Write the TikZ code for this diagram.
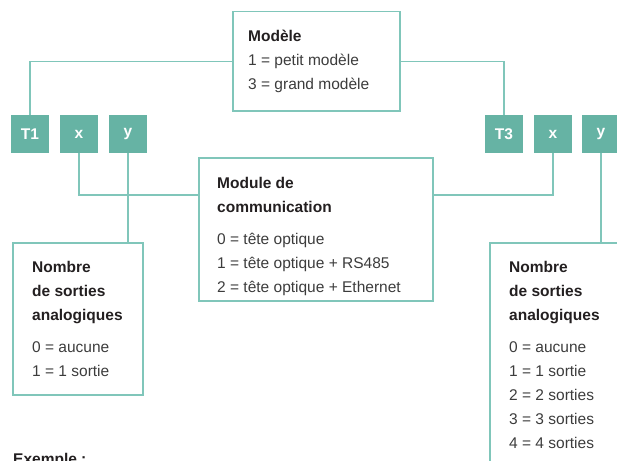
\documentclass[tikz,border=0pt]{standalone}
\usepackage{fontspec}
\setmainfont{Liberation Sans}
\definecolor{tealfill}{HTML}{66B3A4}
\definecolor{tealline}{HTML}{80C6BA}
\definecolor{ink}{HTML}{231F20}
\definecolor{inklight}{HTML}{3C3C3C}
\tikzset{
  code/.style={fill=tealfill, minimum size=38pt, inner sep=0pt, text=white, font=\fontsize{15.5}{18}\selectfont\bfseries},
  box/.style={draw=tealline, line width=1.5pt, inner sep=0pt, anchor=north west},
  wire/.style={tealline, line width=1.5pt},
  legend/.style={anchor=north west, align=left, inner sep=0pt, text=inklight, font=\fontsize{15.5}{24}\selectfont},
}
\newcommand{\ttl}[1]{\textcolor{ink}{\textbf{#1}}}
\begin{document}
\begin{tikzpicture}[x=1pt,y=-1pt]
  \useasboundingbox (0,0) rectangle (617,460);
  \clip (0,0) rectangle (617,460);
  % code squares
  \foreach \n/\t/\x in {t1/T1/30, xa/x/79, ya/y/128, t3/T3/504, xb/x/553, yb/y/601}
    \node[code] (\n) at (\x,134) {\t};
  % boxes
  \node[box, minimum width=167pt, minimum height=99pt] (modele) at (232,11) {};
  \node[box, minimum width=234pt, minimum height=143pt] (module) at (198,157) {};
  \node[box, minimum width=130pt, minimum height=152pt] (sortiesA) at (12,242) {};
  \node[box, minimum width=220pt, minimum height=300pt] (sortiesB) at (489,242) {};
  % texts
  \node[legend] (modeleT) at (248,30) {\ttl{Modèle}\\1 = petit modèle\\3 = grand modèle};
  \node[legend] (moduleT) at (217,177) {\ttl{Module de}\\\ttl{communication}\\[8pt]0 = tête optique\\1 = tête optique + RS485\\2 = tête optique + Ethernet};
  \node[legend] (sortiesAT) at (32,261) {\ttl{Nombre}\\\ttl{de sorties}\\\ttl{analogiques}\\[8pt]0 = aucune\\1 = 1 sortie};
  \node[legend] (sortiesBT) at (509,261) {\ttl{Nombre}\\\ttl{de sorties}\\\ttl{analogiques}\\[8pt]0 = aucune\\1 = 1 sortie\\2 = 2 sorties\\3 = 3 sorties\\4 = 4 sorties};
  \node[legend] (exemple) at (13,453) {\ttl{Exemple :}};
  % connectors
  \draw[wire] (modele.west) -| (t1.north);
  \draw[wire] (modele.east) -| (t3.north);
  \draw[wire] (xa.south) |- ([yshift=-38pt]module.north west);
  \draw[wire] (xb.south) |- ([yshift=-38pt]module.north east);
  \draw[wire] (ya.south) -- (ya.south |- sortiesA.north);
  \draw[wire] (yb.south) -- (yb.south |- sortiesB.north);
\end{tikzpicture}
\end{document}
